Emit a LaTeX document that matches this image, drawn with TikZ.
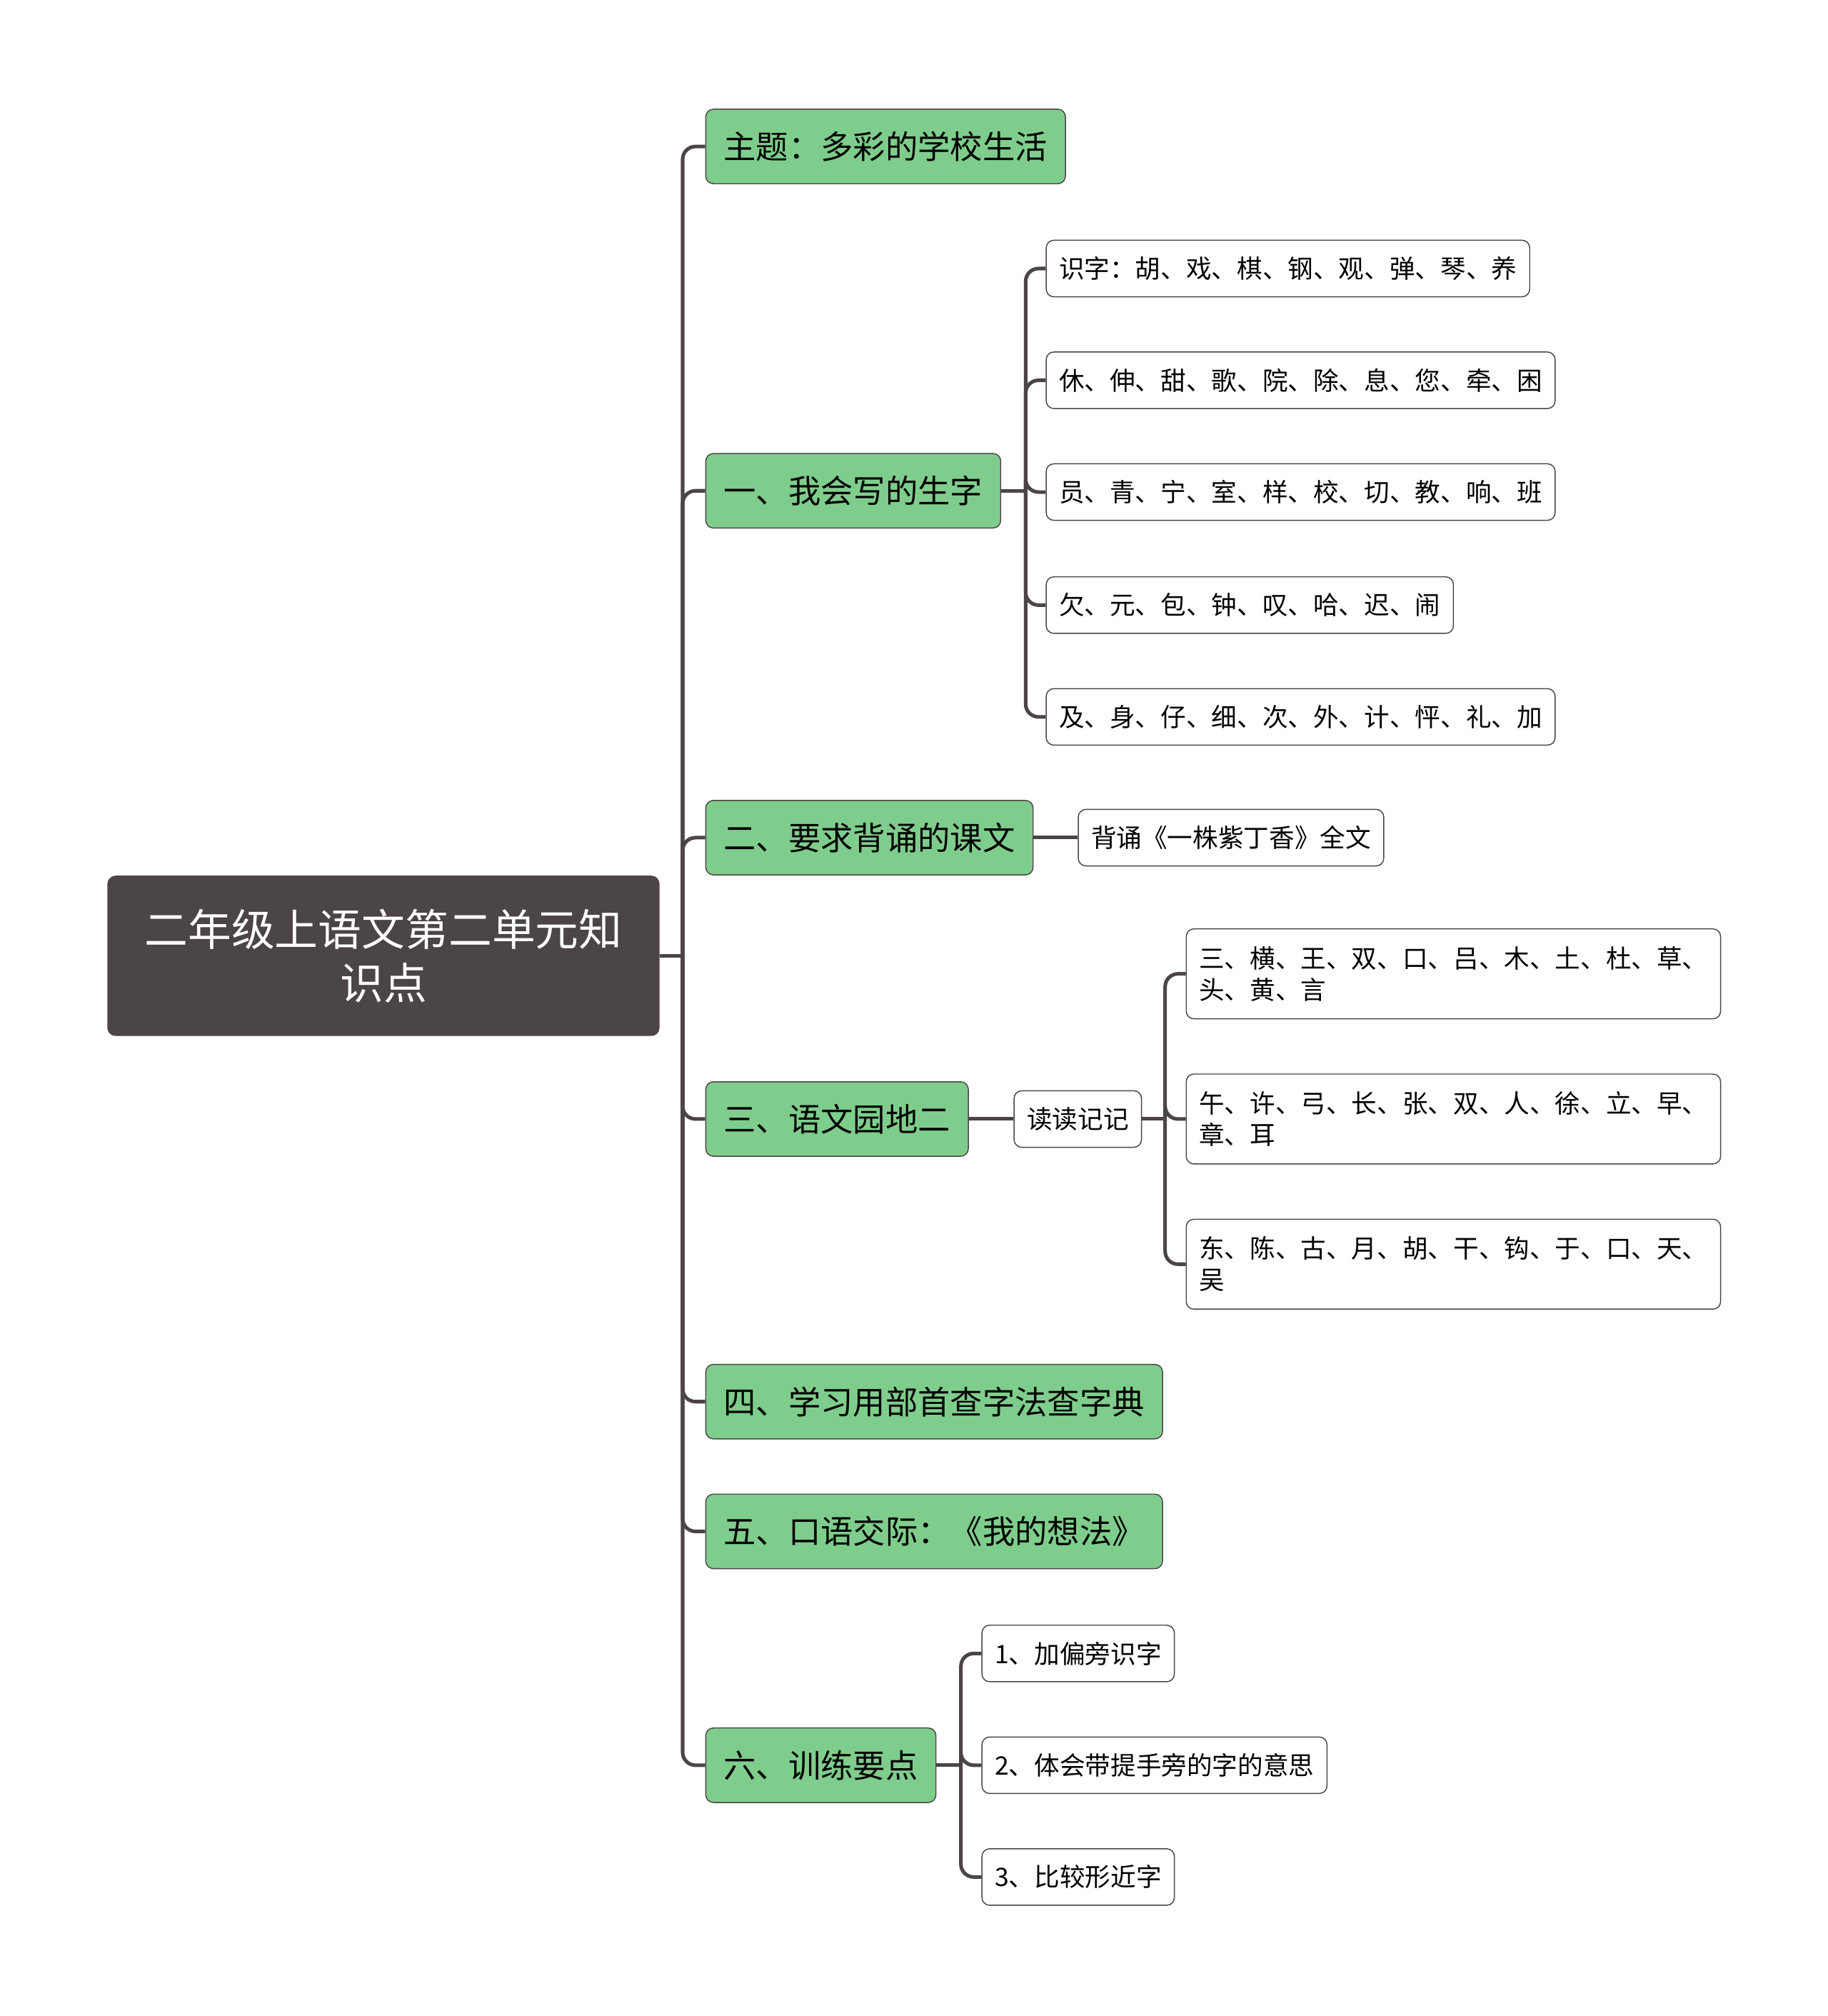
\documentclass[tikz,border=0pt]{standalone}
\usepackage{fontspec}
\setmainfont{Noto Sans CJK SC}
\usetikzlibrary{positioning}
\definecolor{rootfill}{HTML}{4B4545}
\definecolor{topicfill}{HTML}{7FCD8C}
\definecolor{linegray}{HTML}{4B4545}
\tikzset{
  rootnode/.style={draw=rootfill,fill=rootfill,text=white,rounded corners=3pt,align=center,
    minimum width=214.5pt,minimum height=62pt,font=\fontsize{16.9pt}{21pt}\selectfont},
  topic/.style={draw=linegray,fill=topicfill,rounded corners=3pt,anchor=west,inner xsep=7pt,
    minimum height=29pt,font=\fontsize{12.6pt}{15pt}\selectfont},
  leaf/.style={draw=linegray,fill=white,rounded corners=3pt,anchor=west,inner xsep=5pt,
    minimum height=22pt,align=left,font=\fontsize{9.9pt}{12.2pt}\selectfont},
  wide/.style={leaf,minimum width=207pt,minimum height=35pt},
  link/.style={draw=linegray,line width=1.4pt,rounded corners=5pt},
}
\begin{document}
\begin{tikzpicture}[x=0.5pt,y=0.5pt]
\useasboundingbox (0,0) rectangle (1423,-1569.2);
\node[rootnode] (root) at (298.5,-744) {二年级上语文第二单元知\\识点};

\node[topic,minimum width=139.5pt] (theme) at (549,-114) {主题：多彩的学校生活};
\node[topic,minimum width=114pt] (write) at (549,-382) {一、我会写的生字};
\node[topic,minimum width=126.5pt] (recite) at (549,-652) {二、要求背诵的课文};
\node[topic,minimum width=101pt] (garden) at (549,-871) {三、语文园地二};
\node[topic,minimum width=177pt] (dict) at (549,-1091) {四、学习用部首查字法查字典};
\node[topic,minimum width=177pt] (talk) at (549,-1192) {五、口语交际：《我的想法》};
\node[topic,minimum width=88.5pt] (train) at (549,-1374) {六、训练要点};

\draw[link] (root.east) -- ++(18,0);
\foreach \t in {theme,write,recite,garden,dict,talk,train}
  \draw[link] ([xshift=9pt]root.east) |- (\t.west);

% 一
\node[leaf,minimum width=187pt] (w1) at (814,-209) {识字：胡、戏、棋、钢、观、弹、琴、养};
\node[leaf,minimum width=197pt] (w2) at (814,-296) {休、伸、甜、歌、院、除、息、您、牵、困};
\node[leaf,minimum width=197pt] (w3) at (814,-383) {员、青、宁、室、样、校、切、教、响、班};
\node[leaf,minimum width=157.5pt] (w4) at (814,-471) {欠、元、包、钟、叹、哈、迟、闹};
\node[leaf,minimum width=197pt] (w5) at (814,-558) {及、身、仔、细、次、外、计、怦、礼、加};
\draw[link] (write.east) -- ++(19,0);
\foreach \t in {w1,w2,w3,w4,w5}
  \draw[link] ([xshift=9.5pt]write.east) |- (\t.west);

% 二
\node[leaf,minimum width=118pt] (r1) at (839,-652) {背诵《一株紫丁香》全文};
\draw[link] (recite.east) -- (r1.west);

% 三
\node[leaf,minimum width=49pt] (read) at (789,-871) {读读记记};
\draw[link] (garden.east) -- (read.west);
\node[wide] (g1) at (923,-758) {三、横、王、双、口、吕、木、土、杜、草、\\头、黄、言};
\node[wide] (g2) at (923,-871) {午、许、弓、长、张、双、人、徐、立、早、\\章、耳};
\node[wide] (g3) at (923,-984) {东、陈、古、月、胡、干、钩、于、口、天、\\吴};
\draw[link] (read.east) -- ++(18,0);
\foreach \t in {g1,g2,g3}
  \draw[link] ([xshift=9pt]read.east) |- (\t.west);

% 六
\node[leaf,minimum width=74pt] (t1) at (764,-1287) {1、加偏旁识字};
\node[leaf,minimum width=133pt] (t2) at (764,-1374) {2、体会带提手旁的字的意思};
\node[leaf,minimum width=74pt] (t3) at (764,-1461) {3、比较形近字};
\draw[link] (train.east) -- ++(19,0);
\foreach \t in {t1,t2,t3}
  \draw[link] ([xshift=9.5pt]train.east) |- (\t.west);
\end{tikzpicture}
\end{document}
